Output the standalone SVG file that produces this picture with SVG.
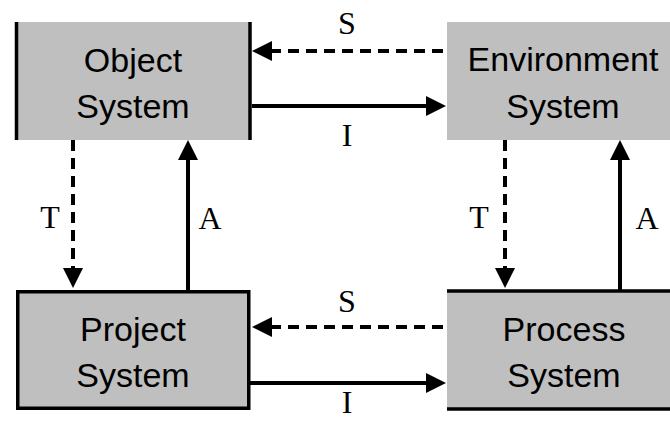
<svg xmlns="http://www.w3.org/2000/svg" width="670" height="421" viewBox="0 0 670 421">
<style>
.box{fill:#bfbfbf;}
.edge{stroke:#000;stroke-width:3.5;fill:none;}
.name{font-family:"Liberation Sans",Arial,sans-serif;font-size:34px;fill:#000;text-anchor:middle;}
.lbl{font-family:"Liberation Serif","Times New Roman",serif;font-size:32px;fill:#000;text-anchor:middle;}
.solid{stroke:#000;stroke-width:4;fill:none;marker-end:url(#ah);}
.dash{stroke:#000;stroke-width:4;fill:none;stroke-dasharray:11 7;marker-end:url(#ah);}
</style>
<defs>
<marker id="ah" viewBox="0 0 20 20" refX="10" refY="10" markerUnits="userSpaceOnUse" markerWidth="20" markerHeight="20" orient="auto">
<path d="M0,0 L20,10 L0,20 z" fill="#000" stroke="none"/>
</marker>
</defs>
<rect width="670" height="421" fill="#fff"/>
<g id="object-system">
<rect class="box" x="16" y="22" width="234" height="118"/>
<line class="edge" x1="16.5" y1="22" x2="16.5" y2="140"/>
<line class="edge" x1="250" y1="22" x2="250" y2="140"/>
<text class="name" x="133" y="72">Object</text>
<text class="name" x="133" y="118">System</text>
</g>
<g id="environment-system">
<rect class="box" x="447" y="22" width="223" height="118"/>
<text class="name" x="563" y="71">Environment</text>
<text class="name" x="563" y="118">System</text>
</g>
<g id="project-system">
<rect class="box" x="17.75" y="291.75" width="231" height="116.5"/>
<rect class="edge" x="17.75" y="291.75" width="231" height="116.5"/>
<text class="name" x="133" y="341">Project</text>
<text class="name" x="133" y="387">System</text>
</g>
<g id="process-system">
<rect class="box" x="447" y="290" width="223" height="120"/>
<line class="edge" x1="447" y1="291" x2="670" y2="291"/>
<line class="edge" x1="447" y1="409" x2="670" y2="409"/>
<text class="name" x="564" y="341">Process</text>
<text class="name" x="564" y="387">System</text>
</g>
<g id="connectors">
<line class="dash" x1="443" y1="51" x2="262" y2="51"/>
<line class="solid" x1="252" y1="106" x2="436" y2="106"/>
<line class="dash" x1="443" y1="327" x2="262" y2="327"/>
<line class="solid" x1="250" y1="383" x2="436" y2="383"/>
<line class="dash" x1="73" y1="140" x2="73" y2="278"/>
<line class="solid" x1="188" y1="290" x2="188" y2="150"/>
<line class="dash" x1="505" y1="140" x2="505" y2="278"/>
<line class="solid" x1="620" y1="290" x2="620" y2="150"/>
<text class="lbl" x="347" y="34">S</text>
<text class="lbl" x="347" y="146">I</text>
<text class="lbl" x="347" y="312">S</text>
<text class="lbl" x="347" y="413" font-size="28">I</text>
<text class="lbl" x="50" y="228">T</text>
<text class="lbl" x="210" y="229">A</text>
<text class="lbl" x="479" y="228">T</text>
<text class="lbl" x="647" y="229">A</text>
</g>
</svg>
